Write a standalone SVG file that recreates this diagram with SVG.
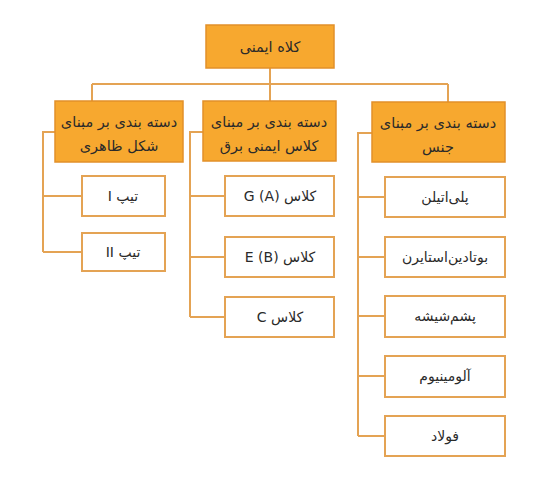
<svg xmlns="http://www.w3.org/2000/svg" width="550" height="487" viewBox="0 0 550 487">
<style>
.bg{fill:#ffffff}
.cat{fill:#F7A82F;stroke:#E2902A;stroke-width:1.5}
.leaf{fill:#ffffff;stroke:#E4A354;stroke-width:2}
.ln{fill:none;stroke:#E4A354;stroke-width:2}
text{font-family:"DejaVu Sans","Noto Sans",sans-serif;fill:#2a2a2a;text-anchor:middle}
.t1{font-size:14.5px}
.t2{font-size:14px}
</style>
<rect class="bg" width="550" height="487"/>
<g id="connectors">
<path class="ln" d="M270,68 V84 M92,84 H448 M92,84 V101 M270,84 V101 M448,84 V102"/>
<path class="ln" d="M55,132 H43 V252 M43,196 H82 M43,252 H82"/>
<path class="ln" d="M203,132 H190 V317 M190,196 H225 M190,257 H225 M190,317 H225"/>
<path class="ln" d="M372,133 H358 V436 M358,197 H385 M358,257 H385 M358,316 H385 M358,376 H385 M358,436 H385"/>
</g>
<g id="root"><rect class="cat" x="206" y="25" width="128" height="43"/><text class="t1" x="270" y="52" direction="rtl">کلاه ایمنی</text></g>
<g id="cat1"><rect class="cat" x="55" y="101" width="128" height="61"/><text class="t1" x="119" y="127" direction="rtl">دسته بندی بر مبنای</text><text class="t1" x="119" y="151" direction="rtl">شکل ظاهری</text></g>
<g id="cat2"><rect class="cat" x="203" y="101" width="133" height="60"/><text class="t1" x="269" y="127" direction="rtl">دسته بندی بر مبنای</text><text class="t1" x="269" y="151" direction="rtl">کلاس ایمنی برق</text></g>
<g id="cat3"><rect class="cat" x="372" y="102" width="133" height="60"/><text class="t1" x="438" y="128" direction="rtl">دسته بندی بر مبنای</text><text class="t1" x="438" y="152" direction="rtl">جنس</text></g>
<g id="tip1"><rect class="leaf" x="82" y="176" width="83" height="40"/><text class="t2" x="123" y="201" direction="rtl">تیپ I</text></g>
<g id="tip2"><rect class="leaf" x="82" y="233" width="83" height="38"/><text class="t2" x="123" y="257" direction="rtl">تیپ II</text></g>
<g id="classA"><rect class="leaf" x="225" y="176" width="109" height="40"/><text class="t2" x="280" y="201" direction="rtl">کلاس G (A)&#x200E;</text></g>
<g id="classB"><rect class="leaf" x="225" y="237" width="109" height="40"/><text class="t2" x="280" y="262" direction="rtl">کلاس E (B)&#x200E;</text></g>
<g id="classC"><rect class="leaf" x="225" y="297" width="109" height="40"/><text class="t2" x="280" y="322" direction="rtl">کلاس C</text></g>
<g id="m1"><rect class="leaf" x="385" y="177" width="120" height="40"/><text class="t2" x="445" y="202" direction="rtl">پلی‌اتیلن</text></g>
<g id="m2"><rect class="leaf" x="385" y="237" width="120" height="40"/><text class="t2" x="445" y="262" direction="rtl">بوتادین‌استایرن</text></g>
<g id="m3"><rect class="leaf" x="385" y="296" width="120" height="41"/><text class="t2" x="445" y="321" direction="rtl">پشم‌شیشه</text></g>
<g id="m4"><rect class="leaf" x="385" y="356" width="120" height="41"/><text class="t2" x="445" y="381" direction="rtl">آلومینیوم</text></g>
<g id="m5"><rect class="leaf" x="385" y="416" width="120" height="40"/><text class="t2" x="445" y="441" direction="rtl">فولاد</text></g>
</svg>
